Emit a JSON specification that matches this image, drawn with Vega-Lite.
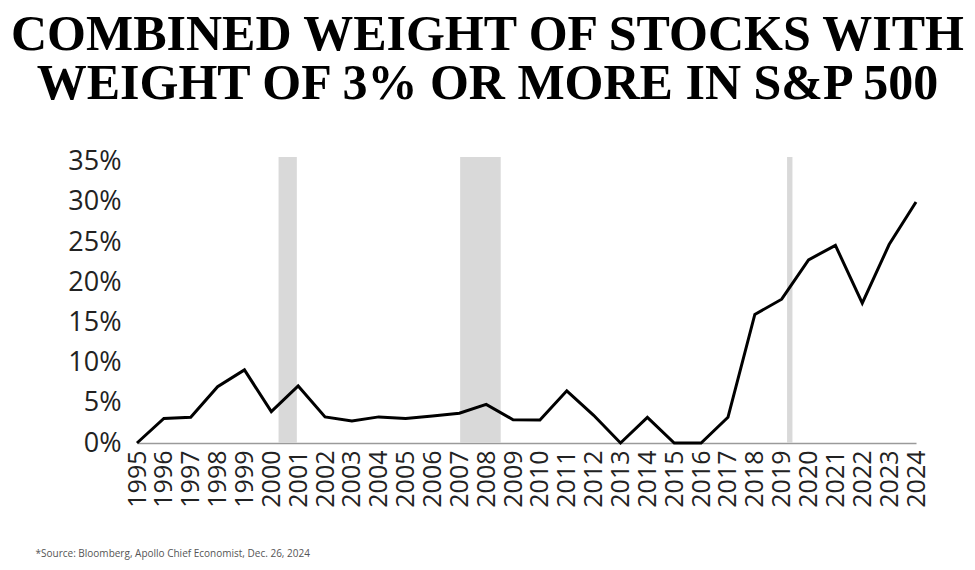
{
  "$schema": "https://vega.github.io/schema/vega-lite/v6.json",
  "width": 779,
  "height": 286,
  "autosize": "none",
  "padding": {"left": 137, "top": 157, "right": 59, "bottom": 127},
  "background": "white",
  "title": {
    "text": ["COMBINED WEIGHT OF STOCKS WITH", "WEIGHT OF 3% OR MORE IN S&P 500"],
    "font": "Liberation Serif",
    "fontWeight": "bold",
    "fontSize": 50,
    "lineHeight": 49,
    "color": "#000000",
    "anchor": "middle",
    "frame": "group",
    "dx": -39,
    "offset": 39
  },
  "config": {"view": {"stroke": null}},
  "datasets": {
    "bands": [
      {"start": 2000.27, "end": 2000.95},
      {"start": 2007.03, "end": 2008.54},
      {"start": 2019.2, "end": 2019.4}
    ],
    "series": [
      {"year": 1995, "weight": 0},
      {"year": 1996, "weight": 3.05},
      {"year": 1997, "weight": 3.2},
      {"year": 1998, "weight": 7.0},
      {"year": 1999, "weight": 9.1},
      {"year": 2000, "weight": 3.9},
      {"year": 2001, "weight": 7.1},
      {"year": 2002, "weight": 3.25},
      {"year": 2003, "weight": 2.75},
      {"year": 2004, "weight": 3.25},
      {"year": 2005, "weight": 3.05},
      {"year": 2006, "weight": 3.35},
      {"year": 2007, "weight": 3.7},
      {"year": 2008, "weight": 4.8},
      {"year": 2009, "weight": 2.9},
      {"year": 2010, "weight": 2.85},
      {"year": 2011, "weight": 6.5},
      {"year": 2012, "weight": 3.45},
      {"year": 2013, "weight": 0},
      {"year": 2014, "weight": 3.2},
      {"year": 2015, "weight": 0},
      {"year": 2016, "weight": 0},
      {"year": 2017, "weight": 3.2},
      {"year": 2018, "weight": 16.0},
      {"year": 2019, "weight": 17.9},
      {"year": 2020, "weight": 22.8},
      {"year": 2021, "weight": 24.6},
      {"year": 2022, "weight": 17.4},
      {"year": 2023, "weight": 24.7},
      {"year": 2024, "weight": 30.0}
    ]
  },
  "layer": [
    {
      "data": {"name": "bands"},
      "mark": {"type": "rect", "color": "#d9d9d9"},
      "encoding": {
        "x": {
          "field": "start",
          "type": "quantitative",
          "scale": {"domain": [1995, 2024], "nice": false, "zero": false},
          "axis": {
            "values": [1995,1996,1997,1998,1999,2000,2001,2002,2003,2004,2005,2006,2007,2008,2009,2010,2011,2012,2013,2014,2015,2016,2017,2018,2019,2020,2021,2022,2023,2024],
            "format": "d",
            "labelAngle": -90,
            "labelFont": "Open Sans",
            "labelFontSize": 25,
            "labelColor": "#222222",
            "labelPadding": 7,
            "labelOverlap": false,
            "labelFlush": false,
            "ticks": false,
            "grid": false,
            "domainColor": "#9a9a9a",
            "domainWidth": 1.5,
            "title": "*Source: Bloomberg, Apollo Chief Economist, Dec. 26, 2024",
            "titleFont": "Open Sans",
            "titleFontSize": 10,
            "titleFontWeight": "normal",
            "titleColor": "#555555",
            "titleAnchor": "start",
            "titleAlign": "left",
            "titleBaseline": "middle",
            "titleX": -102,
            "titleY": 110
          }
        },
        "x2": {"field": "end"}
      }
    },
    {
      "data": {"name": "series"},
      "mark": {"type": "line", "color": "#000000", "strokeWidth": 3, "strokeJoin": "miter"},
      "encoding": {
        "x": {
          "field": "year",
          "type": "quantitative",
          "scale": {"domain": [1995, 2024], "nice": false, "zero": false},
          "axis": {
            "values": [1995,1996,1997,1998,1999,2000,2001,2002,2003,2004,2005,2006,2007,2008,2009,2010,2011,2012,2013,2014,2015,2016,2017,2018,2019,2020,2021,2022,2023,2024],
            "format": "d",
            "labelAngle": -90,
            "labelFont": "Open Sans",
            "labelFontSize": 25,
            "labelColor": "#222222",
            "labelPadding": 7,
            "labelOverlap": false,
            "labelFlush": false,
            "ticks": false,
            "grid": false,
            "domainColor": "#9a9a9a",
            "domainWidth": 1.5,
            "title": "*Source: Bloomberg, Apollo Chief Economist, Dec. 26, 2024",
            "titleFont": "Open Sans",
            "titleFontSize": 10,
            "titleFontWeight": "normal",
            "titleColor": "#555555",
            "titleAnchor": "start",
            "titleAlign": "left",
            "titleBaseline": "middle",
            "titleX": -102,
            "titleY": 110
          }
        },
        "y": {
          "field": "weight",
          "type": "quantitative",
          "scale": {"domain": [0, 35.6], "nice": false},
          "axis": {
            "values": [0, 5, 10, 15, 20, 25, 30, 35],
            "labelExpr": "datum.value + '%'",
            "labelFont": "Open Sans",
            "labelFontSize": 27,
            "labelColor": "#222222",
            "labelPadding": 16,
            "ticks": false,
            "domain": false,
            "grid": false,
            "title": null
          }
        }
      }
    }
  ]
}
